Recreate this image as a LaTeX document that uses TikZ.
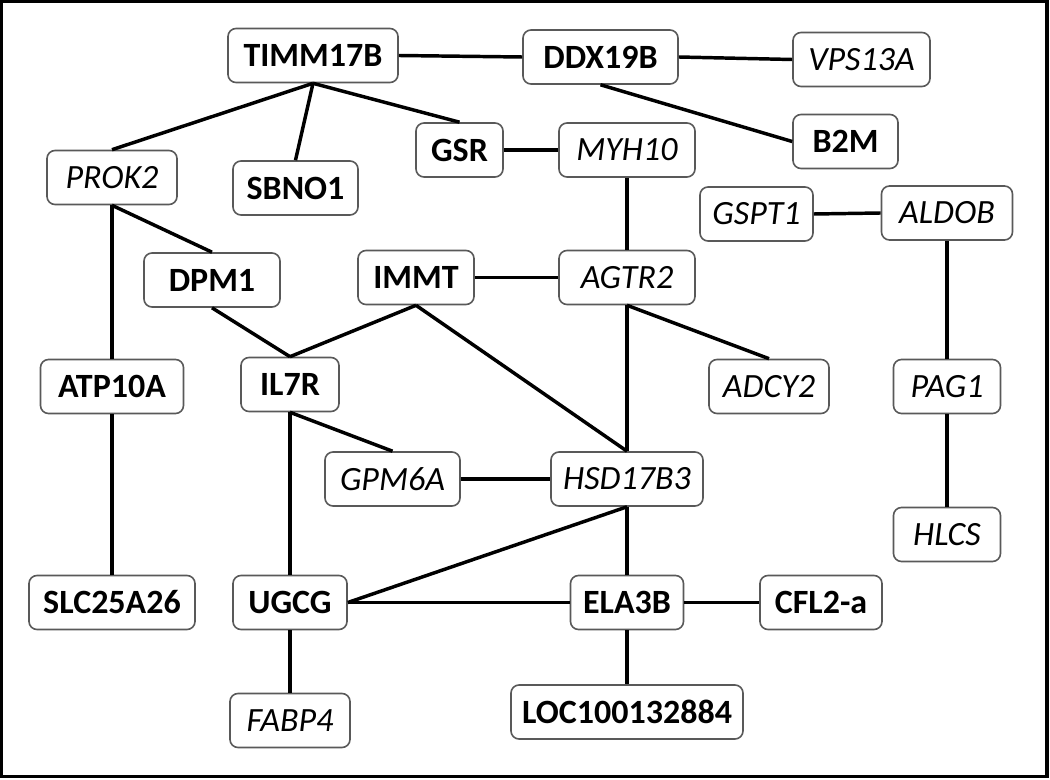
\documentclass[tikz,border=0pt]{standalone}
\usepackage{fontspec}
\setmainfont{Carlito}
\begin{document}
\begin{tikzpicture}[x=0.75pt,y=-0.75pt,
  gene/.style={draw=black!65,line width=1.2pt,rounded corners=6pt,fill=white,
    minimum height=40.5pt,inner sep=0pt,font=\fontsize{25.5}{29}\selectfont},
  bgene/.style={gene,font=\fontsize{25.5}{29}\selectfont\bfseries},
  igene/.style={gene,font=\fontsize{25.5}{29}\selectfont\itshape},
  wd/.style={minimum width={#1*0.75pt}},
  link/.style={line width=2.6pt,black}]
\useasboundingbox (0,0) rectangle (1050,780);
\draw[line width=2.6pt] (1.7,1.7) rectangle (1047,776.5);

\node[bgene,wd=170] (timm) at (313,55.5) {TIMM17B};
\node[bgene,wd=155] (ddx) at (600.5,57) {DDX19B};
\node[igene,wd=137] (vps) at (861.5,59.5) {VPS13A};
\node[bgene,wd=105] (b2m) at (845.5,141.5) {B2M};
\node[bgene,wd=87] (gsr) at (459.5,150) {GSR};
\node[igene,wd=136] (myh) at (627,150) {MYH10};
\node[igene,wd=130] (prok) at (112,177.5) {PROK2};
\node[bgene,wd=125] (sbno) at (295.5,188) {SBNO1};
\node[igene,wd=113] (gspt) at (756.5,214) {GSPT1};
\node[igene,wd=131] (aldob) at (947,213) {ALDOB};
\node[bgene,wd=136] (dpm) at (212,280) {DPM1};
\node[bgene,wd=116] (immt) at (416,277.5) {IMMT};
\node[igene,wd=136] (agtr) at (627,277.5) {AGTR2};
\node[bgene,wd=143] (atp) at (112,386.5) {ATP10A};
\node[bgene,wd=98] (il7r) at (290,384.5) {IL7R};
\node[igene,wd=120] (adcy) at (769,386.5) {ADCY2};
\node[igene,wd=107] (pag) at (947,386.5) {PAG1};
\node[igene,wd=135] (gpm) at (392.5,479) {GPM6A};
\node[igene,wd=152] (hsd) at (627,479) {HSD17B3};
\node[igene,wd=107] (hlcs) at (947,534.5) {HLCS};
\node[bgene,wd=166] (slc) at (112,602.5) {SLC25A26};
\node[bgene,wd=114] (ugcg) at (290,602.5) {UGCG};
\node[bgene,wd=113] (ela) at (627,602.5) {ELA3B};
\node[bgene,wd=122] (cfl) at (821,602.5) {CFL2-a};
\node[igene,wd=120] (fabp) at (290,720.5) {FABP4};
\node[bgene,wd=232] (loc) at (627,712) {LOC100132884};

\draw[link] (timm.east) -- (ddx.west);
\draw[link] (ddx.east) -- (vps.west);
\draw[link] (ddx.south) -- (b2m.west);
\draw[link] (timm.south) -- (prok.north);
\draw[link] (timm.south) -- (sbno.north);
\draw[link] (timm.south) -- (gsr.north);
\draw[link] (gsr.east) -- (myh.west);
\draw[link] (myh.south) -- (agtr.north);
\draw[link] (gspt.east) -- (aldob.west);
\draw[link] (aldob.south) -- (pag.north);
\draw[link] (pag.south) -- (hlcs.north);
\draw[link] (prok.south) -- (atp.north);
\draw[link] (prok.south) -- (dpm.north);
\draw[link] (dpm.south) -- (il7r.north);
\draw[link] (immt.south) -- (il7r.north);
\draw[link] (immt.south) -- (hsd.north);
\draw[link] (immt.east) -- (agtr.west);
\draw[link] (agtr.south) -- (hsd.north);
\draw[link] (agtr.south) -- (adcy.north);
\draw[link] (atp.south) -- (slc.north);
\draw[link] (il7r.south) -- (ugcg.north);
\draw[link] (il7r.south) -- (gpm.north);
\draw[link] (gpm.east) -- (hsd.west);
\draw[link] (hsd.south) -- (ugcg.east);
\draw[link] (hsd.south) -- (ela.north);
\draw[link] (ugcg.east) -- (ela.west);
\draw[link] (ela.east) -- (cfl.west);
\draw[link] (ela.south) -- (loc.north);
\draw[link] (ugcg.south) -- (fabp.north);
\end{tikzpicture}
\end{document}
